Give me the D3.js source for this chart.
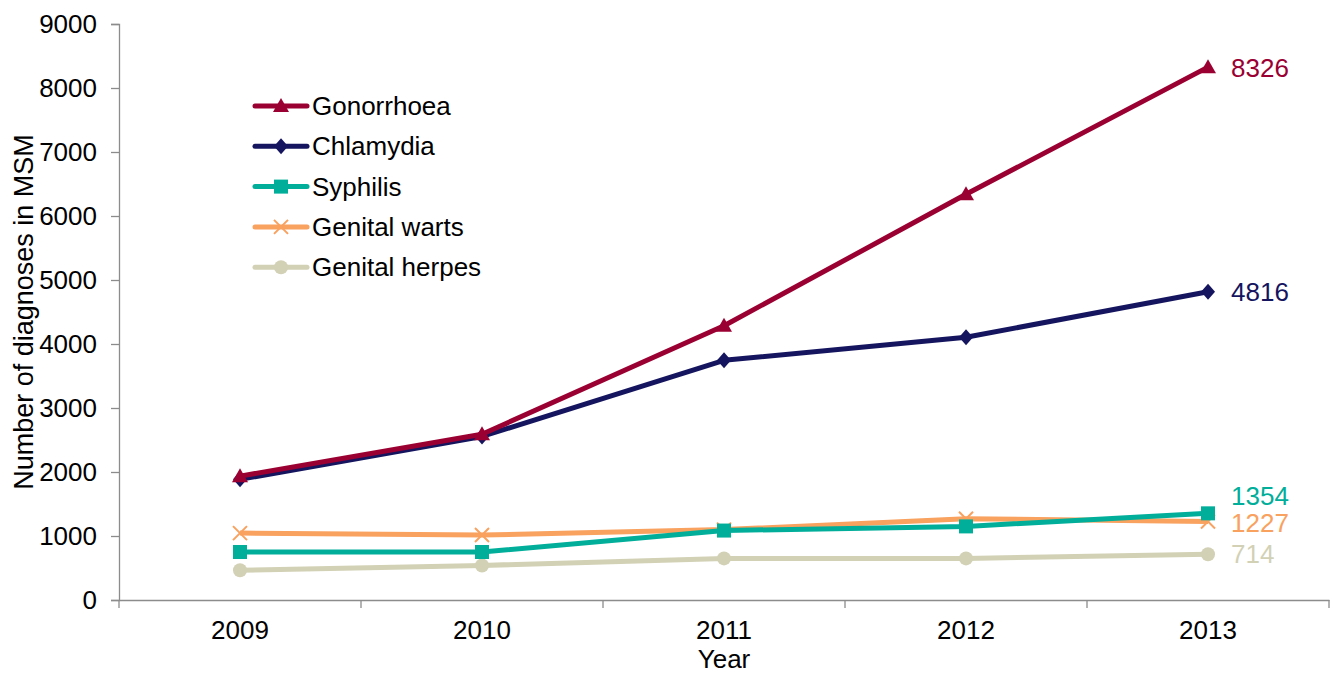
<!DOCTYPE html>
<html><head><meta charset="utf-8">
<script src="https://cdn.jsdelivr.net/npm/d3@7"></script>
<style>body{margin:0;background:#fff}svg{display:block}text{font-family:"Liberation Sans",Arial,sans-serif}</style>
</head><body><svg id="c" width="1336" height="675"></svg>
<script>
const years = ["2009","2010","2011","2012","2013"];
const gonorrhoea = [1935, 2590, 4285, 6340, 8326];
const chlamydia = [1885, 2555, 3745, 4105, 4816];
const syphilis = [750, 750, 1085, 1150, 1354];
const genitalWarts = [1045, 1015, 1100, 1270, 1227];
const genitalHerpes = [465, 540, 650, 650, 714];
const yTicks = [0,1000,2000,3000,4000,5000,6000,7000,8000,9000];
const seriesNames = ["Gonorrhoea","Chlamydia","Syphilis","Genital warts","Genital herpes"];
const seriesColors = ["#9B0032","#15155F","#00AE9A","#F9A15E","#D2D1B5"];
const seriesMarkers = ["triangle","diamond","square","cross","circle"];
const seriesValues = [gonorrhoea, chlamydia, syphilis, genitalWarts, genitalHerpes];
const labelDy = [1, 0, -17, 1, 0];

(function(){
const svg = d3.select("#c");
const mLeft = 119, mRight = 1329, mTop = 24, mBottom = 600;
const FS = 26;
const x = d3.scaleBand().domain(years).range([mLeft, mRight]);
const y = d3.scaleLinear().domain([0, 9000]).range([mBottom, mTop]);
const axisColor = "#8c8c8c";

// y axis
const ya = svg.append("g").attr("transform", `translate(${mLeft},0)`)
  .call(d3.axisLeft(y).tickValues(yTicks).tickFormat(d3.format("d")).tickSize(8).tickPadding(14));
ya.select(".domain").attr("stroke", axisColor).attr("stroke-width", 1.3);
ya.selectAll(".tick line").attr("stroke", axisColor).attr("stroke-width", 1.3);
ya.selectAll(".tick text").attr("font-size", FS).attr("fill", "#000").attr("font-family", "Liberation Sans, Arial, sans-serif");

// x axis
const xa = svg.append("g").attr("transform", `translate(0,${mBottom})`)
  .call(d3.axisBottom(x).tickSize(0).tickPadding(21));
xa.select(".domain").attr("stroke", axisColor).attr("stroke-width", 1.3);
xa.selectAll(".tick text").attr("font-size", FS).attr("fill", "#000").attr("font-family", "Liberation Sans, Arial, sans-serif");
const edges = years.map(d => x(d)).concat([mRight]);
svg.append("g").selectAll("line").data(edges).join("line")
  .attr("x1", d => d).attr("x2", d => d).attr("y1", mBottom).attr("y2", mBottom + 8)
  .attr("stroke", axisColor).attr("stroke-width", 1.3);

// titles
svg.append("text").attr("transform", `translate(33,${(mTop+mBottom)/2}) rotate(-90)`)
  .attr("text-anchor", "middle").attr("font-size", 27).text("Number of diagnoses in MSM");
svg.append("text").attr("x", x("2011") + x.bandwidth()/2).attr("y", 668)
  .attr("text-anchor", "middle").attr("font-size", FS).text("Year");

function marker(g, type, color, cx, cy) {
  if (type === "triangle") g.append("path").attr("d", `M${cx},${cy-8}L${cx+8},${cy+6}L${cx-8},${cy+6}Z`).attr("fill", color);
  else if (type === "diamond") g.append("path").attr("d", `M${cx},${cy-8}L${cx+7},${cy}L${cx},${cy+8}L${cx-7},${cy}Z`).attr("fill", color);
  else if (type === "square") g.append("rect").attr("x", cx-7).attr("y", cy-7).attr("width", 14).attr("height", 14).attr("fill", color);
  else if (type === "circle") g.append("circle").attr("cx", cx).attr("cy", cy).attr("r", 7).attr("fill", color);
  else if (type === "cross") g.append("path").attr("d", `M${cx-7},${cy-7}L${cx+7},${cy+7}M${cx+7},${cy-7}L${cx-7},${cy+7}`).attr("stroke", color).attr("stroke-width", 2);
}

const line = d3.line().x((d, i) => x(years[i]) + x.bandwidth()/2).y(d => y(d));
for (let s = seriesValues.length - 1; s >= 0; s--) {
  const g = svg.append("g");
  g.append("path").attr("d", line(seriesValues[s])).attr("fill", "none")
    .attr("stroke", seriesColors[s]).attr("stroke-width", 5).attr("stroke-linejoin", "round");
  seriesValues[s].forEach((v, i) => marker(g, seriesMarkers[s], seriesColors[s], x(years[i]) + x.bandwidth()/2, y(v)));
  const last = seriesValues[s][years.length - 1];
  g.append("text").attr("x", x("2013") + x.bandwidth()/2 + 23).attr("y", y(last) + labelDy[s])
    .attr("dy", "0.35em").attr("font-size", FS).attr("fill", seriesColors[s]).text(last);
}

// legend
const lg = svg.append("g");
seriesNames.forEach((n, i) => {
  const cy = 106 + i * 40.3;
  lg.append("line").attr("x1", 255).attr("x2", 307).attr("y1", cy).attr("y2", cy)
    .attr("stroke", seriesColors[i]).attr("stroke-width", 5).attr("stroke-linecap", "round");
  marker(lg, seriesMarkers[i], seriesColors[i], 281, cy);
  lg.append("text").attr("x", 312).attr("y", cy).attr("dy", "0.35em").attr("font-size", FS).text(n);
});
})();
</script></body></html>
